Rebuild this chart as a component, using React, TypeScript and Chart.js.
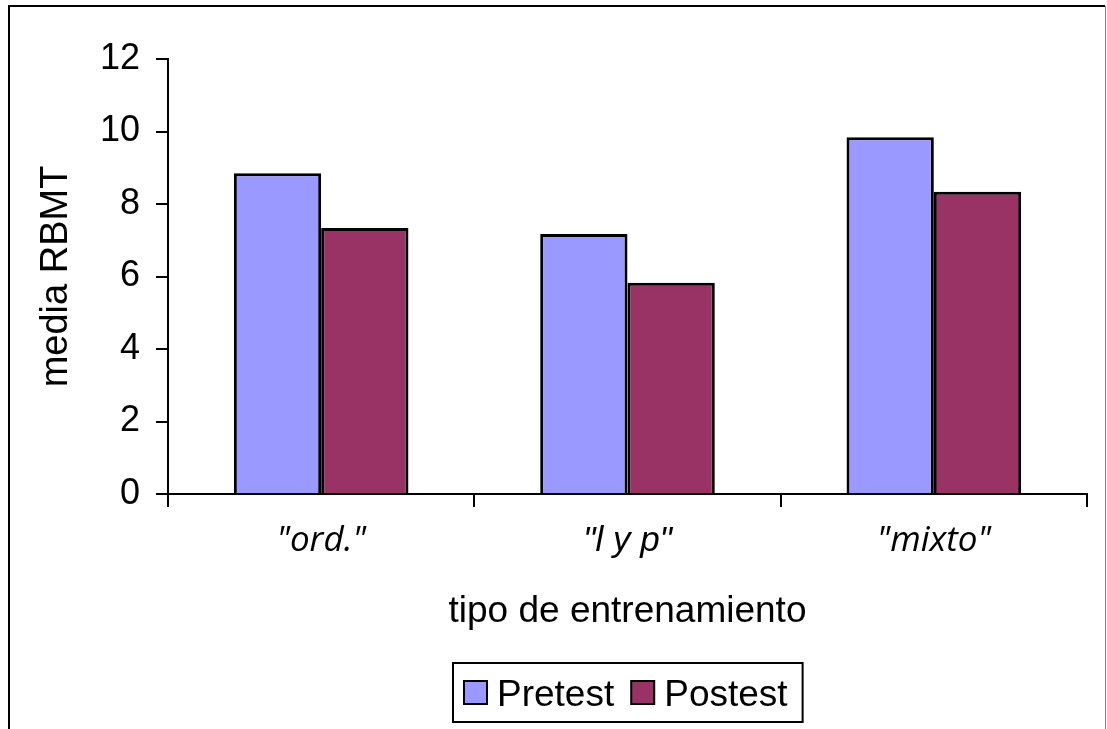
import React, { useEffect, useRef } from "react";
import { Chart, registerables } from "chart.js";

Chart.register(...registerables);

// ---- data ----
const categories = ['"ord."', '"l y p"', '"mixto"'];
const pretest = [8.85, 7.17, 9.84];
const postest = [7.34, 5.83, 8.34];
const seriesNames = ["Pretest", "Postest"];
const seriesColors = ["#9999FF", "#993366"];
const yMin = 0;
const yMax = 12;
const yStep = 2;
const yTitle = "media RBMT";
const xTitle = "tipo de entrenamiento";

const FAMILY = '"Liberation Sans", Arial, sans-serif';
const FS = 37;

const framePlugin = {
  id: "frame",
  beforeDraw(chart: any) {
    const ctx = chart.ctx;
    ctx.save();
    ctx.fillStyle = "#fff";
    ctx.fillRect(0, 0, chart.width, chart.height);
    ctx.strokeStyle = "#000";
    ctx.lineWidth = 2;
    ctx.beginPath();
    ctx.moveTo(9, chart.height + 5);
    ctx.lineTo(9, 6);
    ctx.lineTo(1105, 6);
    ctx.stroke();
    ctx.strokeStyle = "#808080";
    ctx.lineWidth = 1;
    ctx.beginPath();
    ctx.moveTo(1105.5, 6);
    ctx.lineTo(1105.5, chart.height + 5);
    ctx.stroke();
    ctx.restore();
  },
};

const legendBoxPlugin = {
  id: "legendBox",
  afterDraw(chart: any) {
    const ctx = chart.ctx;
    const area = chart.chartArea;
    ctx.save();
    ctx.font = `${FS}px ${FAMILY}`;
    const items = chart.data.datasets.map((ds: any) => ({
      label: ds.label,
      color: ds.backgroundColor,
      w: ctx.measureText(ds.label).width,
    }));
    const padL = 11, sw = 23, gap = 10, itemGap = 17, padR = 15;
    let total = padL + padR;
    items.forEach((it: any, i: number) => {
      total += sw + gap + it.w + (i > 0 ? itemGap : 0);
    });
    const cx = (area.left + area.right) / 2;
    const top = 663;
    const h = 59;
    const left = Math.round(cx - total / 2);
    ctx.fillStyle = "#fff";
    ctx.fillRect(left, top, total, h);
    ctx.strokeStyle = "#000";
    ctx.lineWidth = 2;
    ctx.strokeRect(left, top, total, h);
    let x = left + padL;
    const midY = top + h / 2;
    items.forEach((it: any) => {
      ctx.fillStyle = it.color;
      ctx.fillRect(x, midY - sw / 2, sw, sw);
      ctx.strokeStyle = "#000";
      ctx.lineWidth = 2;
      ctx.strokeRect(x, midY - sw / 2, sw, sw);
      x += sw + gap;
      ctx.fillStyle = "#000";
      ctx.textBaseline = "alphabetic";
      ctx.textAlign = "left";
      ctx.fillText(it.label, x, midY + 13);
      x += it.w + itemGap;
    });
    ctx.restore();
  },
};

export default function App() {
  const ref = useRef<HTMLCanvasElement>(null);

  useEffect(() => {
    if (!ref.current) return;
    const chart = new Chart(ref.current, {
      type: "bar",
      data: {
        labels: categories,
        datasets: [
          {
            label: seriesNames[0],
            data: pretest,
            backgroundColor: seriesColors[0],
            borderColor: "#000",
            borderWidth: 3,
            barPercentage: 1,
            categoryPercentage: 0.57,
          },
          {
            label: seriesNames[1],
            data: postest,
            backgroundColor: seriesColors[1],
            borderColor: "#000",
            borderWidth: 3,
            barPercentage: 1,
            categoryPercentage: 0.57,
          },
        ],
      },
      options: {
        responsive: false,
        animation: false,
        devicePixelRatio: 1,
        layout: { padding: { left: 0, top: 59, right: 20, bottom: 95 } },
        plugins: {
          legend: { display: false },
          tooltip: { enabled: false },
        },
        scales: {
          x: {
            grid: {
              offset: true,
              drawOnChartArea: false,
              drawTicks: true,
              tickLength: 13,
              color: "#000",
              lineWidth: 2,
            },
            border: { display: true, color: "#000", width: 2 },
            ticks: {
              color: "#000",
              padding: 13,
              font: (c: any) => ({
                family: c.index === 1 ? FAMILY : '"Open Sans", sans-serif',
                size: 35,
                style: "italic",
              }),
            },
            title: {
              display: true,
              text: xTitle,
              color: "#000",
              font: { family: FAMILY, size: FS },
              padding: { top: 0, bottom: 0 },
            },
            afterFit: (s: any) => {
              s.height = 140;
            },
          },
          y: {
            min: yMin,
            max: yMax,
            ticks: {
              stepSize: yStep,
              color: "#000",
              padding: 16,
              font: { family: FAMILY, size: 36 },
            },
            grid: {
              drawOnChartArea: false,
              tickLength: 12,
              color: "#000",
              lineWidth: 2,
            },
            border: { display: true, color: "#000", width: 2 },
            title: {
              display: true,
              text: yTitle,
              color: "#000",
              font: { family: FAMILY, size: 38 },
              padding: { top: 34, bottom: 0 },
            },
            afterFit: (s: any) => {
              s.width = 168;
            },
          },
        },
      },
      plugins: [framePlugin, legendBoxPlugin],
    });
    return () => chart.destroy();
  }, []);

  return (
    <canvas
      ref={ref}
      width={1107}
      height={729}
      style={{ position: "absolute", left: 0, top: 0, width: 1107, height: 729 }}
    />
  );
}
